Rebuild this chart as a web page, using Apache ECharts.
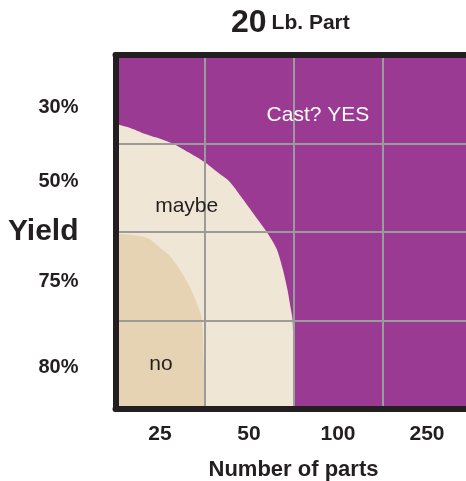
<!DOCTYPE html>
<html>
<head>
<meta charset="utf-8">
<script src="https://cdn.jsdelivr.net/npm/echarts@6/dist/echarts.min.js"></script>
<style>
html,body{margin:0;padding:0;background:#fff;}
#chart{width:466px;height:481px;}
</style>
</head>
<body>
<div id="chart"></div>
<script>
// Categories / tick labels
const partCounts = ['25', '50', '100', '250'];
const yieldLevels = ['80%', '75%', '50%', '30%'];
// Region boundaries in grid units (x: columns 0..4, y: rows 0..4 from bottom)
const maybeBoundary = [[0,3.22],[0.15,3.18],[0.30,3.12],[0.45,3.07],[0.64,3.00],[0.82,2.90],[1.00,2.79],[1.14,2.68],[1.28,2.57],[1.41,2.40],[1.54,2.22],[1.70,2.00],[1.81,1.81],[1.88,1.58],[1.93,1.36],[1.97,1.13],[1.99,1.00],[2.0,0.5],[2.0,0]];
const noBoundary = [[0,1.98],[0.16,1.97],[0.30,1.95],[0.38,1.92],[0.49,1.83],[0.61,1.73],[0.72,1.58],[0.83,1.39],[0.91,1.21],[0.97,1.02],[0.99,0.57],[1.01,0]];
// Region labels: [x, y, text]
const regionLabels = [[2.275, 3.32, 'Cast? YES'], [0.80, 2.29, 'maybe'], [0.51, 0.51, 'no']];

const FONT = 'Liberation Sans';
const BLACK = '#231f20';
const PURPLE = '#9b3a93';
const BEIGE = '#f0e6d6';
const TAN = '#e6d3b3';
const GRIDC = '#9b9b9b';

const labelShift = {'30%': 'dn', '50%': 'up', '75%': 'dn2', '80%': 'n'};
const yLab = {fontFamily: FONT, fontWeight: 'bold', fontSize: 20, color: BLACK};

const chart = echarts.init(document.getElementById('chart'), null, {renderer: 'canvas'});
chart.setOption({
  animation: false,
  title: {
    text: '{a|20} {b|Lb. Part}',
    left: 226, top: 2,
    textStyle: {
      rich: {
        a: {fontFamily: FONT, fontWeight: 'bold', fontSize: 32, color: BLACK},
        b: {fontFamily: FONT, fontWeight: 'bold', fontSize: 21, color: BLACK}
      }
    }
  },
  grid: {
    left: 115.5, top: 55, width: 356, height: 354,
    show: true, backgroundColor: PURPLE, borderWidth: 0, containLabel: false,
    outerBoundsMode: 'none'
  },
  xAxis: [
    {
      type: 'category', data: partCounts, position: 'bottom', boundaryGap: true, z: 5,
      axisLine: {show: true, onZero: false, lineStyle: {color: BLACK, width: 6}},
      axisTick: {show: false},
      axisLabel: {margin: 15, fontFamily: FONT, fontWeight: 'bold', fontSize: 21, color: BLACK},
      splitLine: {show: true, lineStyle: {color: GRIDC, width: 2}},
      name: 'Number of parts', nameLocation: 'middle', nameGap: 50, nameMoveOverlap: false,
      nameTextStyle: {fontFamily: FONT, fontWeight: 'bold', fontSize: 22, color: BLACK}
    },
    {
      type: 'value', min: 0, max: 4, position: 'top', z: 5,
      axisLine: {show: true, onZero: false, lineStyle: {color: BLACK, width: 6}},
      axisTick: {show: false}, axisLabel: {show: false}, splitLine: {show: false}
    }
  ],
  yAxis: [
    {
      type: 'category', data: yieldLevels, position: 'left', boundaryGap: true, z: 5,
      axisLine: {show: true, onZero: false, lineStyle: {color: BLACK, width: 6}},
      axisTick: {show: false},
      axisLabel: {
        margin: 37, fontFamily: FONT, fontWeight: 'bold', fontSize: 20, color: BLACK,
        formatter: v => '{' + labelShift[v] + '|' + v + '}',
        rich: {
          n: Object.assign({padding: [6, 0, 0, 0]}, yLab),
          dn: Object.assign({padding: [17, 0, 0, 0]}, yLab),
          dn2: Object.assign({padding: [11, 0, 0, 0]}, yLab),
          up: Object.assign({padding: [0, 0, 13, 0]}, yLab)
        }
      },
      splitLine: {show: true, lineStyle: {color: GRIDC, width: 2}},
      name: 'Yield', nameLocation: 'middle', nameRotate: 0, nameGap: 37, nameMoveOverlap: false,
      nameTextStyle: {fontFamily: FONT, fontWeight: 'bold', fontSize: 30, color: BLACK, align: 'right', verticalAlign: 'middle'}
    },
    {
      type: 'value', min: 0, max: 4, position: 'right', show: false,
      splitLine: {show: false}
    }
  ],
  series: [
    {
      type: 'line', xAxisIndex: 1, yAxisIndex: 1, data: maybeBoundary, z: 2,
      showSymbol: false, symbol: 'none', smooth: 0.25,
      lineStyle: {width: 0, color: BEIGE}, areaStyle: {color: BEIGE, opacity: 1}, silent: true
    },
    {
      type: 'line', xAxisIndex: 1, yAxisIndex: 1, data: noBoundary, z: 3,
      showSymbol: false, symbol: 'none', smooth: 0.25,
      lineStyle: {width: 0, color: TAN}, areaStyle: {color: TAN, opacity: 1}, silent: true
    },
    {
      type: 'scatter', xAxisIndex: 1, yAxisIndex: 1, z: 6, symbolSize: 1,
      itemStyle: {color: 'rgba(0,0,0,0)', opacity: 1},
      data: regionLabels.map(d => ({
        value: d,
        label: {color: d[2] === 'Cast? YES' ? '#ffffff' : BLACK}
      })),
      label: {
        show: true, position: 'inside', fontFamily: FONT, fontSize: 21, opacity: 1,
        formatter: p => p.value[2]
      },
      labelLayout: {hideOverlap: false},
      silent: true
    }
  ]
});
</script>
</body>
</html>
